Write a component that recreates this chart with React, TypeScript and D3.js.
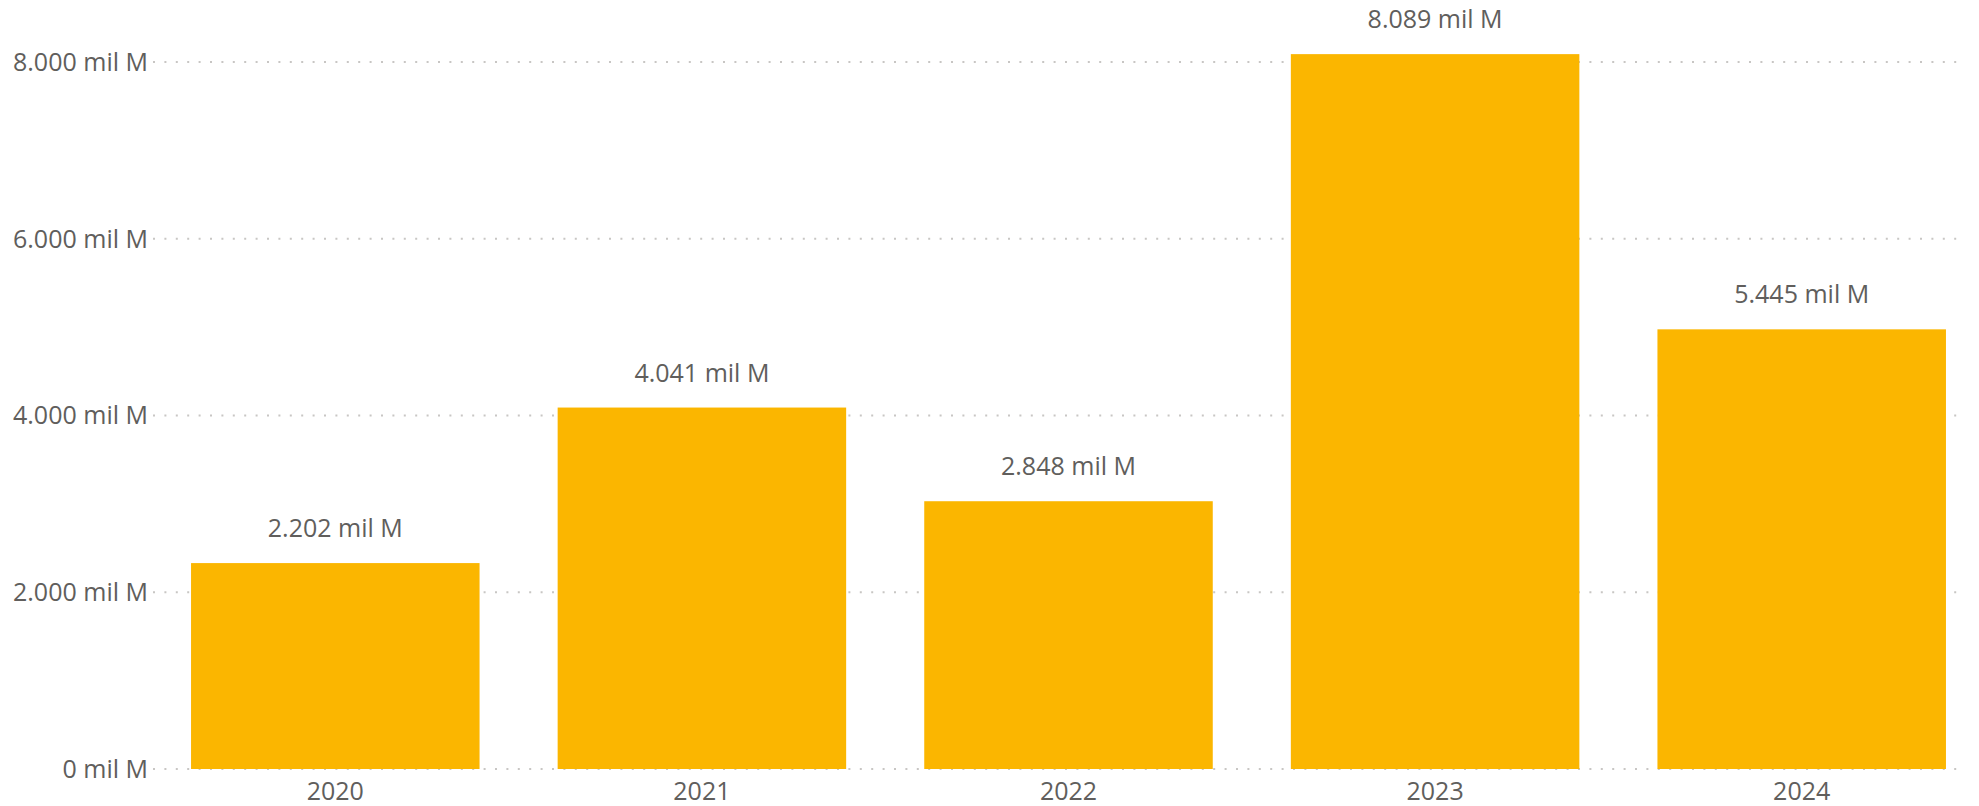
import React from 'react';
import * as d3 from 'd3';

const years = ['2020', '2021', '2022', '2023', '2024'];
// bar heights as drawn in the picture
const barValues = [2330, 4090, 3030, 8089, 4975];
const valueLabels = ['2.202 mil M', '4.041 mil M', '2.848 mil M', '8.089 mil M', '5.445 mil M'];
const yTicks = [0, 2000, 4000, 6000, 8000];
const yTickLabels = ['0 mil M', '2.000 mil M', '4.000 mil M', '6.000 mil M', '8.000 mil M'];

const width = 1979;
const height = 806;
const font = "'Open Sans', 'Noto Sans', sans-serif";
const textColor = '#605E5C';
const barColor = '#FBB600';
const fontSize = 25;

const App: React.FC = () => {
    const x = d3.scaleBand<string>()
        .domain(years)
        .range([152, 1985])
        .paddingInner(0.213)
        .paddingOuter(0.1065);

    const y = d3.scaleLinear()
        .domain([0, 8000])
        .range([769, 62]);

    return (
        <svg
            width={width}
            height={height}
            style={{ position: 'absolute', left: 0, top: 0, background: '#fff' }}
            fontFamily={font}
        >
            {/* gridlines + y labels */}
            {yTicks.map((t, i) => (
                <g key={t}>
                    <line
                        x1={153}
                        x2={1965}
                        y1={y(t)}
                        y2={y(t)}
                        stroke="#C8C6C4"
                        strokeWidth={2}
                        strokeDasharray="2 9.4"
                    />
                    <text
                        x={148}
                        y={y(t)}
                        dy="0.35em"
                        textAnchor="end"
                        fontSize={fontSize}
                        fill={textColor}
                    >
                        {yTickLabels[i]}
                    </text>
                </g>
            ))}

            {/* bars */}
            {years.map((yr, i) => (
                <rect
                    key={yr}
                    x={x(yr)}
                    y={y(barValues[i])}
                    width={x.bandwidth()}
                    height={y(0) - y(barValues[i])}
                    fill={barColor}
                />
            ))}

            {/* value labels */}
            {years.map((yr, i) => (
                <text
                    key={yr}
                    x={(x(yr) ?? 0) + x.bandwidth() / 2}
                    y={y(barValues[i]) - 26}
                    textAnchor="middle"
                    fontSize={fontSize}
                    fill={textColor}
                >
                    {valueLabels[i]}
                </text>
            ))}

            {/* x axis labels */}
            {years.map(yr => (
                <text
                    key={yr}
                    x={(x(yr) ?? 0) + x.bandwidth() / 2}
                    y={800}
                    textAnchor="middle"
                    fontSize={fontSize}
                    fill={textColor}
                >
                    {yr}
                </text>
            ))}
        </svg>
    );
};

export default App;
